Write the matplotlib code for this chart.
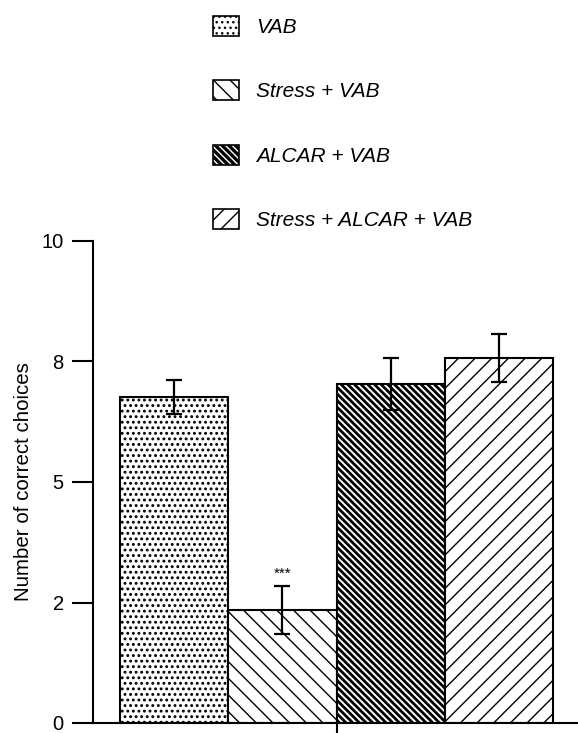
import matplotlib
matplotlib.use('Agg')
import matplotlib.pyplot as plt
from matplotlib.patches import Patch
from matplotlib.legend_handler import HandlerTuple

plt.rcParams['font.family'] = ['Liberation Sans', 'DejaVu Sans']
plt.rcParams['hatch.linewidth'] = 1.0

groups = ['VAB', 'Stress + VAB', 'ALCAR + VAB', 'Stress + ALCAR + VAB']
means = [6.77, 2.34, 7.04, 7.58]
errs = [0.35, 0.50, 0.54, 0.50]
yticks = [0, 2.5, 5, 7.5, 10]
ytick_labels = ['0', '2', '5', '8', '10']

hatches = ['...', '\\\\', '\\' * 5, '//']
faces = ['white', 'white', 'black', 'white']
hatch_cols = ['black', 'black', 'white', 'black']
hatch_lw = [1.3, 1.0, 1.4, 1.0]


def set_hlw(p, lw):
    # per-artist hatch width only exists in newer matplotlib
    if hasattr(p, 'set_hatch_linewidth'):
        p.set_hatch_linewidth(lw)


fig = plt.figure(figsize=(5.78, 7.33), dpi=100)
ax = fig.add_axes([93/578, 10/733, 1 - 93/578, (723-241)/733])

x = list(range(len(groups)))
for i in x:
    # hatch first (colour comes from edgecolor), then the outline on top
    bars = ax.bar(i, means[i], width=1.0, color=faces[i], edgecolor=hatch_cols[i],
                  hatch=hatches[i], linewidth=0)
    for b in bars:
        set_hlw(b, hatch_lw[i])
    ax.bar(i, means[i], width=1.0, fill=False, edgecolor='black', linewidth=1.5)
    ax.errorbar(i, means[i], yerr=errs[i], color='black', capsize=6,
                elinewidth=1.6, capthick=1.6)

ax.text(1, means[1] + errs[1] + 0.25, '***', ha='center', va='center', fontsize=11)

ax.set_xlim(-0.75, 3.73)
ax.set_ylim(0, 10)
ax.set_yticks(yticks)
ax.set_yticklabels(ytick_labels, fontsize=14.5)
ax.set_xticks([1.5])
ax.set_xticklabels([''])
ax.tick_params(axis='y', direction='out', length=15, width=1.5, pad=6)
ax.tick_params(axis='x', direction='out', length=12, width=1.5)
for s in ['top', 'right']:
    ax.spines[s].set_visible(False)
for s in ['left', 'bottom']:
    ax.spines[s].set_linewidth(1.5)
ax.set_ylabel('Number of correct choices', fontsize=14.8, labelpad=6)

handles = []
for i in x:
    h = Patch(facecolor=faces[i], edgecolor=hatch_cols[i], hatch=hatches[i], linewidth=0)
    set_hlw(h, hatch_lw[i])
    box = Patch(fill=False, edgecolor='black', linewidth=1.2)
    handles.append((h, box))
leg = fig.legend(handles, groups, loc='upper left',
                 bbox_to_anchor=(213/578, 1 - 16/733), frameon=False,
                 prop={'size': 15, 'style': 'italic'},
                 handler_map={tuple: HandlerTuple(ndivide=1, pad=0)},
                 handlelength=1.25, handleheight=1.1, handletextpad=0.8,
                 labelspacing=2.08, borderpad=0, borderaxespad=0)

fig.savefig('out.png', dpi=100)
